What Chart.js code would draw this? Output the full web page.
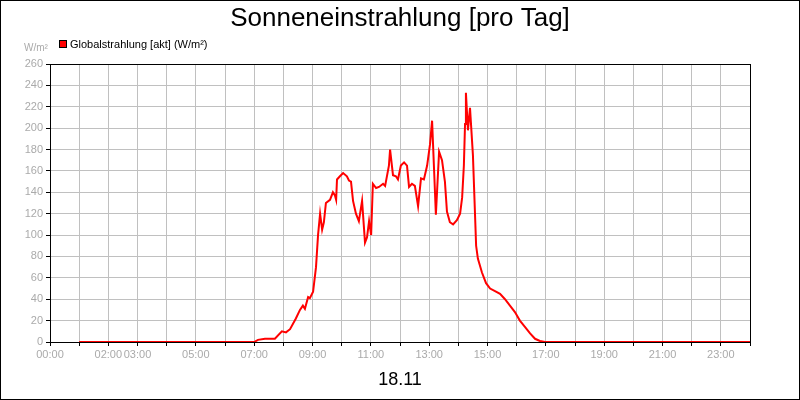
<!DOCTYPE html>
<html><head><meta charset="utf-8">
<script src="https://cdn.jsdelivr.net/npm/chart.js@4"></script>
<style>body{margin:0;background:#fff}#w{width:800px;height:400px;position:relative}</style>
</head><body><div id="w"><canvas id="c"></canvas></div>
<script>
const hours=[1,7,7.13,7.37,7.71,7.95,8.09,8.23,8.43,8.57,8.67,8.74,8.85,8.91,9.02,9.12,9.19,9.26,9.33,9.39,9.46,9.60,9.70,9.77,9.81,9.84,9.94,10.05,10.18,10.25,10.32,10.39,10.49,10.59,10.70,10.80,10.87,10.94,11.01,11.07,11.18,11.28,11.42,11.49,11.62,11.66,11.76,11.86,11.93,12.03,12.14,12.24,12.31,12.41,12.51,12.62,12.72,12.82,12.93,13.03,13.10,13.17,13.23,13.34,13.44,13.54,13.61,13.71,13.82,13.95,14.06,14.13,14.19,14.23,14.26,14.33,14.40,14.50,14.61,14.67,14.81,14.95,15.09,15.29,15.43,15.60,15.77,15.94,16.11,16.29,16.46,16.63,16.80,16.97,24];
const values=[0,0,2,3,3,10,9,12,22,30,34,31,42,41,47,70,100,120,105,112,130,133,140,137,133,152,155,158,155,151,150,132,120,113,132,93,98,113,100,148,144,145,148,146,165,180,156,155,152,165,168,165,145,148,146,127,153,152,165,185,207,160,119,178,170,150,122,112,110,114,120,135,165,204,233,198,219,175,90,78,65,55,50,47,45,40,34,28,20,14,8,3,1,0,0];
const xLabels={0:'00:00',2:'02:00',3:'03:00',5:'05:00',7:'07:00',9:'09:00',11:'11:00',13:'13:00',15:'15:00',17:'17:00',19:'19:00',21:'21:00',23:'23:00'};
const seriesName='Globalstrahlung [akt] (W/m²)';
const titleText='Sonneneinstrahlung [pro Tag]';
const dateText='18.11';
const deco={id:'deco',afterDraw(ch){const c=ch.ctx,a=ch.chartArea;c.save();
c.strokeStyle='#000';c.lineWidth=1;c.strokeRect(a.left+0.5,a.top+0.5,a.right-a.left,a.bottom-a.top);
c.strokeRect(0.5,0.5,799,399);
c.fillStyle='#000';c.textAlign='center';c.textBaseline='middle';
c.font='26px "Liberation Sans", Arial';c.fillText(titleText,400,19);
c.font='18px "Liberation Sans", Arial';c.fillText(dateText,400,380);
c.textAlign='left';c.font='11px "Liberation Sans", Arial';
c.fillStyle='#f00';c.fillRect(59,40,8,8);c.strokeStyle='#000';c.strokeRect(59.5,40.5,7,7);
c.fillStyle='#000';c.fillText(seriesName,70,45);
c.fillStyle='#aaa';c.font='10px "Liberation Sans", Arial';c.fillText('W/m²',24,48);
c.restore();}};
new Chart(document.getElementById('c'),{type:'line',
data:{datasets:[{data:hours.map((h,i)=>({x:h,y:values[i]})),borderColor:'#f00',borderWidth:2,pointRadius:0,tension:0,fill:false}]},
options:{responsive:true,maintainAspectRatio:false,animation:false,devicePixelRatio:1,
layout:{padding:{top:64,right:50,left:0,bottom:0}},
plugins:{legend:{display:false},title:{display:false},tooltip:{enabled:false}},
scales:{
x:{type:'linear',min:0,max:24,afterFit(s){s.height=58;},
 afterBuildTicks(s){s.ticks=[];for(let h=0;h<=24;h++)s.ticks.push({value:h});},
 ticks:{autoSkip:false,maxRotation:0,color:'#aaa',font:{size:11,family:'"Liberation Sans", Arial'},padding:2,callback:v=>xLabels[v]||''},
 grid:{color:'#c0c0c0',tickLength:4,tickColor:'#000'},border:{color:'#000'}},
y:{min:0,max:260,afterFit(s){s.width=50;},
 ticks:{stepSize:20,color:'#aaa',font:{size:11,family:'"Liberation Sans", Arial'},padding:3},
 grid:{color:'#c0c0c0',tickLength:4,tickColor:'#000'},border:{color:'#000'}}}},
plugins:[deco]});
</script></body></html>
